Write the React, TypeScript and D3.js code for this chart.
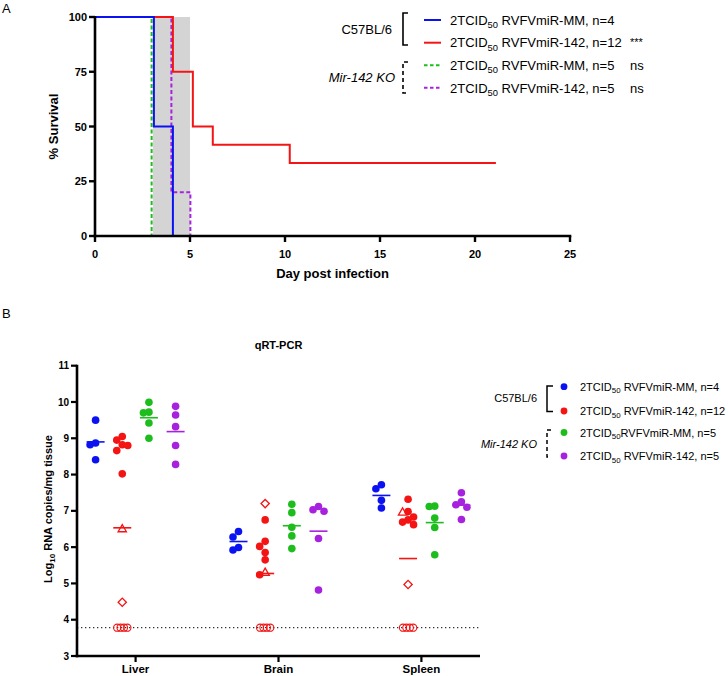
import * as d3 from "d3"

// ---- Panel A: survival ----
const survivalDays = [0, 5, 10, 15, 20, 25]
const survivalTicks = [0, 25, 50, 75, 100]
const shadedDays = [3.05, 5]

// [day, % survival] step points
const survMM = [[0, 100], [3.1, 50], [4.1, 0]]
const surv142 = [[0, 100], [4.1, 75], [5.15, 50], [6.2, 41.67], [10.25, 33.33], [21.1, 33.33]]
const survKoMM = [[0, 100], [2.98, 0]]
const survKo142 = [[0, 100], [4.02, 20], [5.02, 0]]

const legendA = [" RVFVmiR-MM, n=4", " RVFVmiR-142, n=12", " RVFVmiR-MM, n=5", " RVFVmiR-142, n=5"]
const statsA = ["", "***", "ns", "ns"]

// ---- Panel B: qRT-PCR ----
const tissues = ["Liver", "Brain", "Spleen"]
const seriesKeys = ["mm", "mir142", "koMM", "ko142"]
const yTicksB = [3, 4, 5, 6, 7, 8, 9, 10, 11]
const lod = 3.78

// filled points per tissue (Liver, Brain, Spleen)
const valsMM = [[9.5, 8.87, 8.82, 8.41], [6.43, 6.28, 5.99, 5.92], [7.72, 7.61, 7.29, 7.08]]
const vals142 = [[9.05, 8.95, 8.82, 8.8, 8.66, 8.02], [6.75, 6.16, 6.02, 5.85, 5.65, 5.24], [7.32, 6.98, 6.83, 6.75, 6.69, 6.62]]
const valsKoMM = [[9.99, 9.72, 9.7, 9.42, 9.0], [7.18, 6.95, 6.55, 6.31, 5.96], [7.13, 7.12, 6.8, 6.54, 5.79]]
const valsKo142 = [[9.88, 9.64, 9.32, 8.8, 8.28], [7.12, 7.03, 6.99, 6.24, 4.82], [7.5, 7.25, 7.17, 7.1, 6.76]]
// individually marked RVFVmiR-142 animals
const triangle142 = [6.49, 5.29, 6.95]
const diamond142 = [4.48, 7.2, 4.97]
const belowLod142 = [4, 4, 4]

const legendB = [" RVFVmiR-MM, n=4", " RVFVmiR-142, n=12", "RVFVmiR-MM, n=5", " RVFVmiR-142, n=5"]

const colors = ["#0b12f2", "#f41414", "#1ebd1e", "#a722de"]
const font = "'Liberation Sans', Arial, sans-serif"

const xA = d3.scaleLinear().domain([0, 25]).range([95, 570])
const yA = d3.scaleLinear().domain([0, 100]).range([236, 17])
const xB = d3.scalePoint<string>().domain(tissues).range([77, 480]).padding(0.41)
const xSeries = d3.scalePoint<string>().domain(seriesKeys).range([-40, 40])
const yB = d3.scaleLinear().domain([3, 11]).range([656, 365.7])

const stepLine = d3
  .line<number[]>()
  .x((d) => xA(d[0]))
  .y((d) => yA(d[1]))
  .curve(d3.curveStepAfter)

// simple column beeswarm, like Prism's scatter spreading
function swarm(vals: number[], step = 5.5, gap = 6) {
  const placed: { dx: number; py: number }[] = []
  const order = vals.map((v, i) => i).sort((a, b) => vals[b] - vals[a])
  const out: number[] = new Array(vals.length).fill(0)
  order.forEach((i) => {
    const py = yB(vals[i])
    for (const k of [0, -1, 1, -2, 2, -3, 3]) {
      const dx = k * step
      if (!placed.some((p) => Math.abs(p.dx - dx) < 1 && Math.abs(p.py - py) < gap)) {
        placed.push({ dx, py })
        out[i] = dx
        break
      }
    }
  })
  return out
}

function Tcid({ rest, fs }: { rest: string; fs: number }) {
  return (
    <>
      <tspan>2TCID</tspan>
      <tspan fontSize={fs * 0.72} dy={fs * 0.24}>50</tspan>
      <tspan dy={-fs * 0.24}>{rest}</tspan>
    </>
  )
}

export default function App() {
  const survSeries = [survKo142, survKoMM, surv142, survMM]
  const survColors = [colors[3], colors[2], colors[1], colors[0]]
  const survDash = ["4,2.5", "4,2.5", null, null]

  const seriesVals = [valsMM, vals142, valsKoMM, valsKo142]

  const legRowsA = [20, 42.7, 65.2, 87.8]
  const legRowsB = [386.7, 411, 432.5, 456]

  return (
    <svg width={728} height={676} style={{ position: "absolute", left: 0, top: 0, background: "#fff" }} fontFamily={font}>
      <rect width={728} height={676} fill="#fff" />
      {/* panel letters */}
      <text x={2} y={13} fontSize={13}>A</text>
      <text x={2} y={318} fontSize={13}>B</text>

      {/* ===== Panel A ===== */}
      <rect
        x={xA(shadedDays[0])}
        y={yA(100)}
        width={xA(shadedDays[1]) - xA(shadedDays[0])}
        height={yA(0) - yA(100)}
        fill="#d4d4d4"
      />
      {survSeries.map((s, i) => (
        <path
          key={i}
          d={stepLine(s) || ""}
          fill="none"
          stroke={survColors[i]}
          strokeWidth={2}
          strokeDasharray={survDash[i] || undefined}
        />
      ))}
      {/* axes */}
      <line x1={xA(0)} x2={xA(0)} y1={yA(100) - 1} y2={yA(0) + 1.3} stroke="#000" strokeWidth={2.6} />
      <line x1={xA(0) - 1.3} x2={xA(25) + 1.3} y1={yA(0)} y2={yA(0)} stroke="#000" strokeWidth={2.6} />
      {survivalTicks.map((t) => (
        <g key={t}>
          <line x1={xA(0) - 6} x2={xA(0)} y1={yA(t)} y2={yA(t)} stroke="#000" strokeWidth={2.4} />
          <text x={xA(0) - 8} y={yA(t) + 4} fontSize={11} fontWeight="bold" textAnchor="end">{t}</text>
        </g>
      ))}
      {survivalDays.map((t) => (
        <g key={t}>
          <line x1={xA(t)} x2={xA(t)} y1={yA(0)} y2={yA(0) + 6} stroke="#000" strokeWidth={2.4} />
          <text x={xA(t)} y={258} fontSize={11} fontWeight="bold" textAnchor="middle">{t}</text>
        </g>
      ))}
      <text x={(xA(0) + xA(25)) / 2} y={278} fontSize={13} fontWeight="bold" textAnchor="middle">Day post infection</text>
      <text transform={`translate(58,${(yA(0) + yA(100)) / 2}) rotate(-90)`} fontSize={13} fontWeight="bold" textAnchor="middle">% Survival</text>

      {/* legend A */}
      <path d="M408,13 H403 V45 H408" fill="none" stroke="#000" strokeWidth={1.6} />
      <path d="M408,62 H403 V93 H408" fill="none" stroke="#000" strokeWidth={1.6} strokeDasharray="4,3" />
      <text x={392} y={33.5} fontSize={13} textAnchor="end">C57BL/6</text>
      <text x={395} y={81.5} fontSize={13} textAnchor="end" fontStyle="italic">Mir-142 KO</text>
      {legendA.map((lab, i) => (
        <g key={i}>
          <line
            x1={424}
            x2={441}
            y1={legRowsA[i]}
            y2={legRowsA[i]}
            stroke={colors[i]}
            strokeWidth={2}
            strokeDasharray={i >= 2 ? "3.5,2.5" : undefined}
          />
          <text x={450} y={legRowsA[i] + 4.7} fontSize={13}>
            <Tcid rest={lab} fs={13} />
          </text>
          {statsA[i] && (
            <text x={630} y={legRowsA[i] + (statsA[i] === "***" ? 3 : 4.7)} fontSize={statsA[i] === "***" ? 11 : 13}>
              {statsA[i]}
            </text>
          )}
        </g>
      ))}

      {/* ===== Panel B ===== */}
      <text x={(77 + 480) / 2} y={349} fontSize={11} fontWeight="bold" textAnchor="middle">qRT-PCR</text>
      <line x1={xB.range()[0]} x2={xB.range()[1]} y1={yB(lod)} y2={yB(lod)} stroke="#000" strokeWidth={1} strokeDasharray="1.3,2.7" />

      {tissues.map((tissue, ti) => {
        const cx = xB(tissue) || 0
        return (
          <g key={tissue}>
            {seriesKeys.map((key, si) => {
              const gx = cx + (xSeries(key) || 0)
              const filled = seriesVals[si][ti]
              const isMir = key === "mir142"
              const extra = isMir ? [triangle142[ti], diamond142[ti]] : []
              const all = filled.concat(extra)
              const offs = swarm(all)
              const lodVals: number[] = isMir ? d3.range(belowLod142[ti]).map(() => lod) : []
              const mean = d3.mean(all.concat(lodVals)) || 0
              const col = colors[si]
              return (
                <g key={key}>
                  {filled.map((v, i) => (
                    <circle key={i} cx={gx + offs[i]} cy={yB(v)} r={3.8} fill={col} />
                  ))}
                  {isMir && (
                    <>
                      <path
                        d={d3.symbol().type(d3.symbolTriangle).size(30)() || ""}
                        transform={`translate(${gx + offs[filled.length]},${yB(triangle142[ti])})`}
                        fill="none"
                        stroke={col}
                        strokeWidth={1.3}
                      />
                      <path
                        d={d3.symbol().type(d3.symbolSquare).size(34)() || ""}
                        transform={`translate(${gx + offs[filled.length + 1]},${yB(diamond142[ti])}) rotate(45)`}
                        fill="none"
                        stroke={col}
                        strokeWidth={1.3}
                      />
                      {lodVals.map((v, i) => (
                        <circle
                          key={i}
                          cx={gx + (i - (lodVals.length - 1) / 2) * 3.4}
                          cy={yB(v)}
                          r={3.6}
                          fill="none"
                          stroke={col}
                          strokeWidth={1.1}
                        />
                      ))}
                    </>
                  )}
                  <line x1={gx - 9} x2={gx + 9} y1={yB(mean)} y2={yB(mean)} stroke={col} strokeWidth={1.6} />
                </g>
              )
            })}
          </g>
        )
      })}

      {/* axes B */}
      <line x1={77} x2={77} y1={yB(11) - 1} y2={yB(3) + 1.3} stroke="#000" strokeWidth={2.6} />
      <line x1={77 - 1.3} x2={480} y1={yB(3)} y2={yB(3)} stroke="#000" strokeWidth={2.6} />
      {yTicksB.map((t) => (
        <g key={t}>
          <line x1={71} x2={77} y1={yB(t)} y2={yB(t)} stroke="#000" strokeWidth={2.2} />
          <text x={69} y={yB(t) + 3.6} fontSize={10} fontWeight="bold" textAnchor="end">{t}</text>
        </g>
      ))}
      {tissues.map((t) => (
        <g key={t}>
          <line x1={xB(t)} x2={xB(t)} y1={yB(3)} y2={yB(3) + 6} stroke="#000" strokeWidth={2.2} />
          <text x={xB(t)} y={673} fontSize={11.5} fontWeight="bold" textAnchor="middle">{t}</text>
        </g>
      ))}
      <text transform="translate(52,509) rotate(-90)" fontSize={11} fontWeight="bold" textAnchor="middle">
        Log<tspan fontSize={8} dy={2.5}>10</tspan>
        <tspan dy={-2.5}> RNA copies/mg tissue</tspan>
      </text>

      {/* legend B */}
      <path d="M553,386 H547 V411.5 H553" fill="none" stroke="#000" strokeWidth={1.5} />
      <path d="M551,430 H547 V457 H551" fill="none" stroke="#000" strokeWidth={1.5} strokeDasharray="4,3" />
      <text x={537} y={402} fontSize={11} textAnchor="end">C57BL/6</text>
      <text x={537} y={448} fontSize={11} textAnchor="end" fontStyle="italic">Mir-142 KO</text>
      {legendB.map((lab, i) => (
        <g key={i}>
          <circle cx={564} cy={legRowsB[i]} r={3.4} fill={colors[i]} />
          <text x={580} y={legRowsB[i] + 4} fontSize={11}>
            <Tcid rest={lab} fs={11} />
          </text>
        </g>
      ))}
    </svg>
  )
}
